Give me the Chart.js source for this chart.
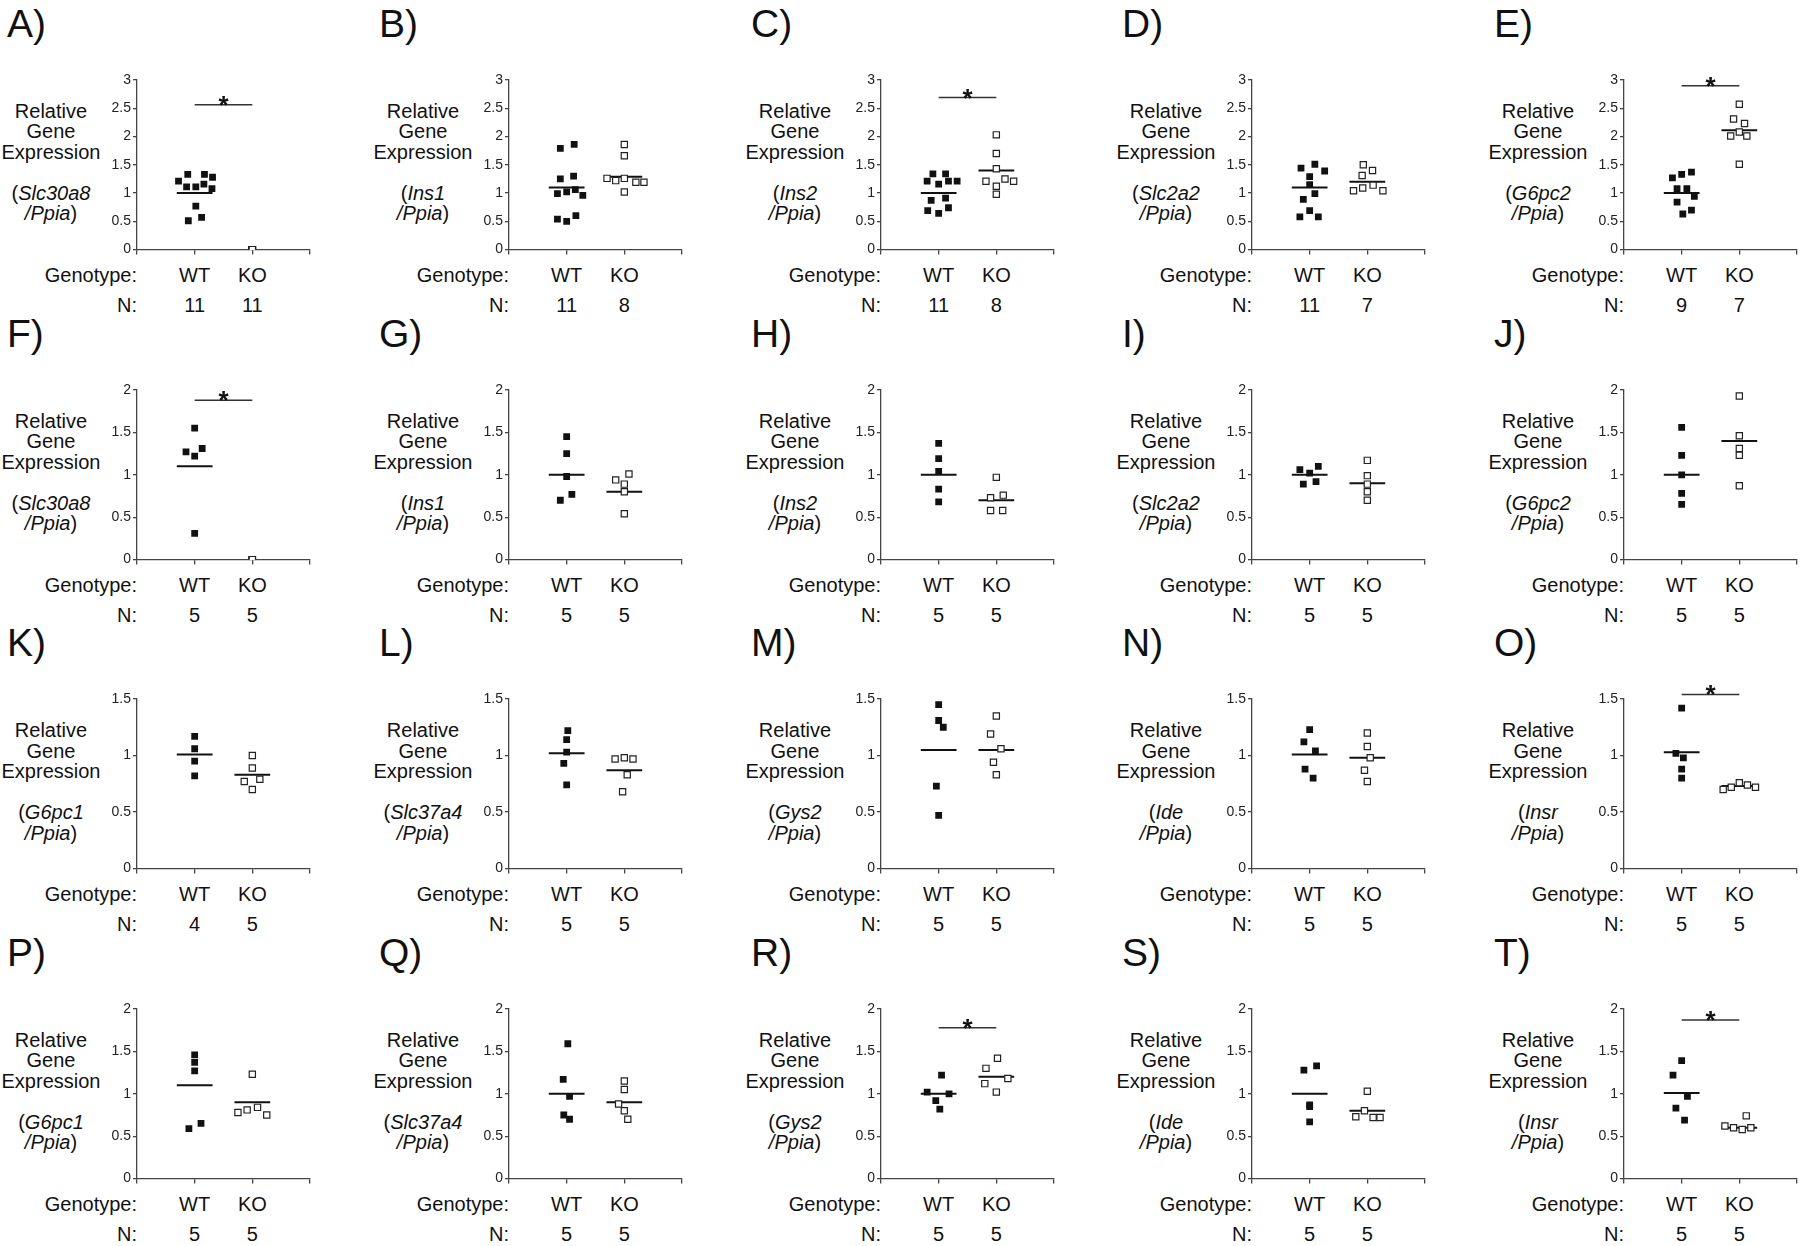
<!DOCTYPE html>
<html>
<head>
<meta charset="utf-8">
<script src="https://cdn.jsdelivr.net/npm/chart.js@4.4.0/dist/chart.umd.min.js"></script>
<style>
body { margin:0; background:#fff; width:1800px; height:1246px; position:relative; overflow:hidden;
  font-family:"Liberation Sans", Arial, Helvetica, sans-serif; color:#111; }
.lbl { position:absolute; white-space:nowrap; }
.letter { font-size:39px; line-height:39px; }
.ytitle { font-size:20px; line-height:20.5px; text-align:center; width:180px; }
.rowtxt { font-size:20px; line-height:24px; }
.plot { position:absolute; }
</style>
</head>
<body>
<script>
// panels A-T, 5 per row
const panelLetters = ['A','B','C','D','E','F','G','H','I','J','K','L','M','N','O','P','Q','R','S','T'];
const genes = ['Slc30a8','Ins1','Ins2','Slc2a2','G6pc2',
               'Slc30a8','Ins1','Ins2','Slc2a2','G6pc2',
               'G6pc1','Slc37a4','Gys2','Ide','Insr',
               'G6pc1','Slc37a4','Gys2','Ide','Insr'];
const groups = ['WT', 'KO'];
const nWT = [11,11,11,11,9, 5,5,5,5,5, 4,5,5,5,5, 5,5,5,5,5];
const nKO = [11,8,8,7,7, 5,5,5,5,5, 5,5,5,5,5, 5,5,5,5,5];

const rowYMax = [3, 2, 1.5, 2];
const rowTickLabels = [
  ['0','0.5','1','1.5','2','2.5','3'],
  ['0','0.5','1','1.5','2'],
  ['0','0.5','1','1.5'],
  ['0','0.5','1','1.5','2']
];

const wtValues = [
  [1.21,1.33,1.33,1.28,1.11,1.11,1.16,1.08,0.77,0.51,0.57],
  [1.79,1.86,1.25,1.30,0.99,1.02,1.06,0.96,0.54,0.50,0.60],
  [1.34,1.34,1.21,1.16,1.21,1.21,0.87,0.91,0.69,0.64,0.74],
  [1.44,1.51,1.39,1.29,1.15,0.89,0.99,0.69,0.58,0.58],
  [1.27,1.33,1.37,1.08,1.08,0.84,0.94,0.63,0.70],
  [1.55,1.27,1.22,1.31,0.31],
  [1.45,1.25,0.98,0.70,0.77],
  [1.37,1.19,1.04,0.83,0.68],
  [1.06,1.02,1.10,0.89,0.92],
  [1.56,1.23,1.00,0.78,0.65],
  [1.17,1.06,0.95,0.82],
  [1.22,1.14,1.03,0.93,0.74],
  [1.45,1.31,1.25,0.73,0.47],
  [1.23,1.12,1.04,0.88,0.80],
  [1.42,1.02,0.98,0.88,0.80],
  [1.46,1.37,1.27,0.59,0.65],
  [1.59,1.17,0.97,0.75,0.70],
  [1.22,1.02,1.00,0.92,0.82],
  [1.33,1.28,0.87,0.85,0.67],
  [1.39,1.22,0.97,0.83,0.69]
];
// horizontal scatter of each dot around its group, in category units
const wtJitter = [
  [-0.28,-0.12,0.17,0.31,-0.14,0.02,0.16,0.30,0.02,-0.11,0.12],
  [-0.11,0.13,-0.11,0.12,-0.16,0,0.15,0.28,-0.16,0,0.16],
  [-0.10,0.12,-0.20,0,0.17,0.32,-0.13,0.12,-0.19,0,0.17],
  [-0.15,0.09,0.26,0,0,-0.11,0.09,0,-0.17,0.15],
  [-0.16,0,0.17,-0.08,0.09,-0.08,0.22,0.02,0.17],
  [0,-0.15,0,0.13,0],
  [0,0,0,-0.11,0.09],
  [0,0,0,0,0],
  [-0.17,0,0.15,-0.11,0.11],
  [0,0,0,0,0],
  [0,0,0,0],
  [0.02,0,0,-0.05,0],
  [0,0,0.08,-0.04,0],
  [0,-0.1,0.1,-0.08,0.06],
  [0,-0.1,0.03,0,0],
  [0,0,0,-0.1,0.11],
  [0.02,-0.06,0.05,-0.05,0.05],
  [0.05,-0.2,0.18,-0.05,0.02],
  [0.12,-0.1,0,0,0],
  [0,-0.15,0.1,-0.1,0.05]
];

const koValues = [
  [0,0,0,0,0,0,0,0,0,0,0],
  [1.86,1.66,1.26,1.22,1.26,1.19,1.19,1.02],
  [2.03,1.70,1.43,1.21,1.12,1.25,1.21,0.98],
  [1.50,1.31,1.40,1.04,1.09,1.14,1.04],
  [2.57,2.31,2.23,2.01,2.08,2.01,1.51],
  [0,0,0,0,0],
  [0.94,1.01,0.89,0.80,0.54],
  [0.97,0.73,0.76,0.58,0.58],
  [1.17,0.99,0.89,0.80,0.70],
  [1.93,1.46,1.31,1.23,0.87],
  [1.00,0.89,0.77,0.79,0.70],
  [0.97,0.98,0.97,0.83,0.68],
  [1.35,1.19,1.06,0.94,0.83],
  [1.20,1.08,0.98,0.87,0.77],
  [0.70,0.72,0.76,0.74,0.72],
  [1.23,0.78,0.81,0.84,0.75],
  [1.15,1.05,0.88,0.80,0.70],
  [1.42,1.30,1.18,1.12,1.02],
  [1.03,0.80,0.73,0.72,0.72],
  [0.74,0.62,0.60,0.58,0.60]
];
const koJitter = [
  [0,0,0,0,0,0,0,0,0,0,0],
  [0,0,-0.30,-0.15,0,0.20,0.34,0],
  [0,0,0,-0.18,0,0.15,0.30,0],
  [-0.07,-0.09,0.09,-0.24,-0.08,0.10,0.27],
  [0,-0.10,0.09,-0.15,0,0.13,0],
  [0,0,0,0,0],
  [-0.15,0.08,0,0,0],
  [0,-0.10,0.12,-0.10,0.11],
  [0,0,0,0,0],
  [0,0,0,0,0],
  [0,0,-0.14,0.13,0],
  [-0.16,0,0.15,0.05,-0.03],
  [0,-0.1,0.08,-0.05,0],
  [0,0,0.05,-0.05,0],
  [-0.28,-0.14,0,0.14,0.28],
  [0,-0.25,-0.09,0.09,0.25],
  [0,0,-0.1,0,0.06],
  [0.02,-0.18,0.2,-0.2,0],
  [0,-0.05,-0.2,0.1,0.22],
  [0.12,-0.25,-0.1,0.05,0.2]
];

const wtMean = [1.0,1.10,1.0,1.1,1.0, 1.1,1.0,1.0,1.0,1.0, 1.01,1.02,1.05,1.01,1.03, 1.1,1.0,1.0,1.0,1.01];
const koMean = [null,1.29,1.4,1.2,2.11, null,0.8,0.7,0.9,1.4, 0.83,0.87,1.05,0.98,0.73, 0.9,0.9,1.2,0.8,0.6];
const sigLevel = [2.56,null,2.69,null,2.90, 1.88,null,null,null,null, null,null,null,null,1.54, null,null,1.78,null,1.87];

// layout of the figure grid
const AXIS_X0 = 137, COL_STEP = 371.8, ROW_STEP = 309.7;
const PLOT_TOP = 80, PLOT_W = 173, PLOT_H = 172;
const PAD_L = 50, PAD_T = 30, PAD_R = 10, PAD_B = 8;
const MEAN_HALF = 0.31;
const axisColor = '#444';

const sigBarPlugin = {
  id: 'sigBar',
  afterDatasetsDraw(chart, args, opts) {
    if (opts.level == null) return;
    const xs = chart.scales.x, ys = chart.scales.y;
    const x1 = xs.getPixelForValue(1), x2 = xs.getPixelForValue(2);
    const y = ys.getPixelForValue(opts.level);
    const ctx = chart.ctx;
    ctx.save();
    ctx.strokeStyle = '#333';
    ctx.lineWidth = 1.5;
    ctx.beginPath();
    ctx.moveTo(x1, y);
    ctx.lineTo(x2, y);
    ctx.stroke();
    ctx.fillStyle = '#111';
    ctx.font = 'bold 26px "Liberation Sans", Arial, sans-serif';
    ctx.textAlign = 'center';
    ctx.textBaseline = 'alphabetic';
    ctx.fillText('*', (x1 + x2) / 2, y + 9);
    ctx.restore();
  }
};

function addText(cls, html, left, top, extra) {
  const d = document.createElement('div');
  d.className = 'lbl ' + cls;
  d.innerHTML = html;
  d.style.left = left + 'px';
  d.style.top = top + 'px';
  if (extra) Object.assign(d.style, extra);
  document.body.appendChild(d);
}

function meanLine(center, m) {
  if (m == null) return [];
  return [{x: center - MEAN_HALF, y: m}, {x: center + MEAN_HALF, y: m}];
}

panelLetters.forEach((letter, i) => {
  const c = i % 5, r = Math.floor(i / 5);
  const ax = Math.round(AXIS_X0 + c * COL_STEP);
  const rowOff = r * ROW_STEP;
  const top = Math.round(PLOT_TOP + rowOff);
  const catX = [ax + PLOT_W / 3, ax + 2 * PLOT_W / 3];

  // texts
  addText('letter', letter + ')', ax - 130, 4 + rowOff);
  addText('ytitle', 'Relative<br>Gene<br>Expression<br>&nbsp;<br>(<i>' + genes[i] + '</i><br><i>/Ppia</i>)',
    ax - 86 - 90, 100.8 + rowOff);
  addText('rowtxt', 'Genotype:', ax - 200, 263 + rowOff, {width: '200px', textAlign: 'right'});
  addText('rowtxt', 'N:', ax - 200, 293 + rowOff, {width: '200px', textAlign: 'right'});
  groups.forEach((g, k) => {
    addText('rowtxt', g, catX[k] - 30, 263 + rowOff, {width: '60px', textAlign: 'center'});
    addText('rowtxt', String(k === 0 ? nWT[i] : nKO[i]), catX[k] - 30, 293 + rowOff, {width: '60px', textAlign: 'center'});
  });

  // chart
  const wrap = document.createElement('div');
  wrap.className = 'plot';
  wrap.style.left = (ax - PAD_L) + 'px';
  wrap.style.top = (top - PAD_T) + 'px';
  const cv = document.createElement('canvas');
  cv.width = PAD_L + PLOT_W + PAD_R;
  cv.height = PAD_T + PLOT_H + PAD_B;
  wrap.appendChild(cv);
  document.body.appendChild(wrap);

  const ticksLbl = rowTickLabels[r];
  new Chart(cv, {
    type: 'scatter',
    data: {
      datasets: [
        {
          label: 'WT',
          data: wtValues[i].map((v, j) => ({x: 1 + wtJitter[i][j], y: v})),
          pointStyle: 'rect', pointRadius: 4.8,
          backgroundColor: '#111', borderColor: '#111', borderWidth: 0
        },
        {
          label: 'KO',
          data: koValues[i].map((v, j) => ({x: 2 + koJitter[i][j], y: v})),
          pointStyle: 'rect', pointRadius: 4.4,
          backgroundColor: '#fff', borderColor: '#222', borderWidth: 1.2
        },
        {
          label: 'WT mean', data: meanLine(1, wtMean[i]),
          showLine: true, pointRadius: 0, borderColor: '#111', borderWidth: 2
        },
        {
          label: 'KO mean', data: meanLine(2, koMean[i]),
          showLine: true, pointRadius: 0, borderColor: '#111', borderWidth: 2
        }
      ]
    },
    options: {
      responsive: false,
      animation: false,
      events: [],
      layout: {padding: {left: 0, top: PAD_T, right: PAD_R, bottom: 0}},
      plugins: {
        legend: {display: false},
        tooltip: {enabled: false},
        sigBar: {level: sigLevel[i]}
      },
      scales: {
        x: {
          type: 'linear', min: 0, max: 3,
          afterBuildTicks: s => { s.ticks = [0, 1, 2, 3].map(v => ({value: v})); },
          afterFit: s => { s.height = PAD_B; },
          ticks: {display: false},
          grid: {drawOnChartArea: false, drawTicks: true, tickLength: 5, color: axisColor, lineWidth: 1.3},
          border: {display: true, color: axisColor, width: 1.3}
        },
        y: {
          min: 0, max: rowYMax[r],
          afterBuildTicks: s => { s.ticks = ticksLbl.map(t => ({value: parseFloat(t)})); },
          afterFit: s => { s.width = PAD_L; },
          ticks: {
            padding: 2,
            color: '#222',
            font: {family: '"Liberation Sans", Arial, sans-serif', size: 14},
            callback: (v) => ticksLbl[Math.round(v / 0.5)]
          },
          grid: {drawOnChartArea: false, drawTicks: true, tickLength: 4, color: axisColor, lineWidth: 1.3},
          border: {display: true, color: axisColor, width: 1.3}
        }
      }
    },
    plugins: [sigBarPlugin]
  });
});
</script>
</body>
</html>
